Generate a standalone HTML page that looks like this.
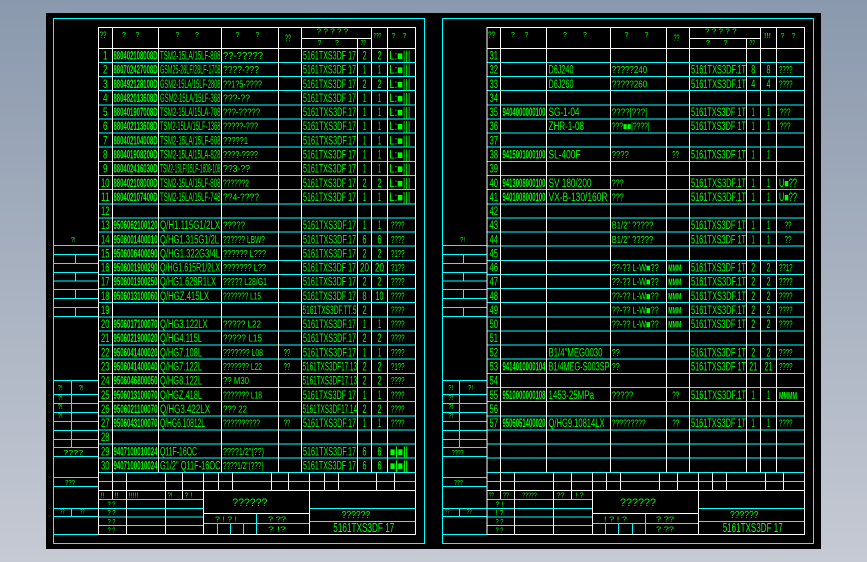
<!DOCTYPE html>
<html><head><meta charset="utf-8">
<style>
html,body{margin:0;padding:0;width:867px;height:562px;overflow:hidden;background:linear-gradient(#8a99ad,#c6cad4);}
svg{display:block}
text{fill:#00ff00;font-family:"Liberation Sans","DejaVu Sans",sans-serif;font-size:11.5px}
.c{text-anchor:middle}
.b{font-weight:bold}
.s{font-size:7px}
.q{font-size:10px}
.m{font-size:9px}
</style></head><body>
<svg width="867" height="562" viewBox="0 0 867 562" shape-rendering="crispEdges">
<rect x="46" y="13" width="775" height="536" fill="#000"/>

<!-- ============ LEFT SHEET LINES ============ -->
<path fill="none" stroke="#00ffff" stroke-width="1" d="M53.5 18.5H424.5V543.5H53.5Z
M53.5 245.5H98M53.5 254.5H98M53.5 263.5H98M53.5 272.5H98M53.5 281H98M53.5 289.5H98M53.5 298.5H98M53.5 307.5H98M53.5 316.5H98
M75.5 254.5V263.5M75.5 272.5V281M75.5 289.5V298.5M75.5 307.5V316.5
M53.5 380.5H98M53.5 394.5H98M53.5 403.5H98M53.5 412.5H98M53.5 421.5H98M53.5 430.5H98M53.5 439.5H98M53.5 447.5H98M53.5 456.5H98M53.5 477.5H98M53.5 486.5H98M53.5 508.5H98M53.5 516.5H98M53.5 534.5H98
M71.5 380.5V447.5M71.5 508.5V516.5
M98.3 62.4H415.7M98.3 76.6H415.7M98.3 90.7H415.7M98.3 104.8H415.7M98.3 119H415.7M98.3 133.1H415.7M98.3 147.2H415.7M98.3 161.4H415.7M98.3 175.5H415.7M98.3 189.6H415.7
M98.3 203.8H415.7M98.3 217.9H415.7M98.3 232H415.7M98.3 246.2H415.7M98.3 260.3H415.7M98.3 274.4H415.7M98.3 288.6H415.7M98.3 302.7H415.7M98.3 316.8H415.7M98.3 331H415.7
M98.3 345.1H415.7M98.3 359.2H415.7M98.3 373.4H415.7M98.3 387.5H415.7M98.3 401.6H415.7M98.3 415.8H415.7M98.3 429.9H415.7M98.3 444H415.7M98.3 458.2H415.7M98.3 472.3H415.7M98.3 481.3H415.7
M98.3 499.3H203.3M98.3 508.3H203.3M98.3 517H203.3M98.3 525.7H203.3
M203.3 523.3H309.3M217.3 523.3V534.3M230.3 523.3V534.3M243.3 523.3V534.3M256.3 513.3V534.3
M309.3 508.3H415.7M309.3 521.3H415.7"/>
<path fill="none" stroke="#ffffff" stroke-width="1" d="M98.3 27.3H415.7V534.3H98.3Z
M98.3 48.3H415.7M301.7 38.3H371.7
M112.3 27.3V499.3M158.7 27.3V472.3M221.7 27.3V472.3M278.7 27.3V472.3M301.7 27.3V472.3M357.3 38.3V472.3M371.7 27.3V472.3M387.3 27.3V472.3
M126.3 472.3V534.3M165.3 472.3V534.3M182.3 472.3V499.3M203.3 472.3V534.3M218.3 472.3V490.3M232.3 472.3V490.3M271.3 472.3V490.3M288.3 472.3V490.3M309.3 472.3V534.3M324.3 472.3V490.3M338.3 472.3V490.3M376.7 472.3V490.3M394.3 472.3V490.3
M98.3 490.3H415.7M203.3 513.3H309.3"/>

<!-- ============ RIGHT SHEET LINES ============ -->
<path fill="none" stroke="#00ffff" stroke-width="1" d="M442.5 18.5H813.5V543.5H442.5Z
M442.5 245.5H487M442.5 254.5H487M442.5 263.5H487M442.5 272.5H487M442.5 281H487M442.5 289.5H487M442.5 298.5H487M442.5 307.5H487M442.5 316.5H487
M463.5 254.5V263.5M463.5 272.5V281M463.5 289.5V298.5M463.5 307.5V316.5
M442.5 380.5H487M442.5 394.5H487M442.5 403.5H487M442.5 412.5H487M442.5 421.5H487M442.5 430.5H487M442.5 439.5H487M442.5 447.5H487M442.5 456.5H487M442.5 477.5H487M442.5 486.5H487M442.5 508.5H487M442.5 516.5H487M442.5 534.5H487
M459.5 380.5V447.5M459.5 508.5V516.5
M487 62.4H804.7M487 76.6H804.7M487 90.7H804.7M487 104.8H804.7M487 119H804.7M487 133.1H804.7M487 147.2H804.7M487 161.4H804.7M487 175.5H804.7M487 189.6H804.7
M487 203.8H804.7M487 217.9H804.7M487 232H804.7M487 246.2H804.7M487 260.3H804.7M487 274.4H804.7M487 288.6H804.7M487 302.7H804.7M487 316.8H804.7M487 331H804.7
M487 345.1H804.7M487 359.2H804.7M487 373.4H804.7M487 387.5H804.7M487 401.6H804.7M487 415.8H804.7M487 429.9H804.7M487 444H804.7M487 458.2H804.7M487 472.3H804.7M487 481.3H804.7
M487 499.3H592.3M487 508.3H592.3M487 517H592.3M487 525.7H592.3
M592.3 523.3H698.3M605.3 523.3V534.3M618.3 523.3V534.3M632.3 523.3V534.3M645.7 513.3V534.3
M698.3 508.3H804.7M698.3 521.3H804.7"/>
<path fill="none" stroke="#ffffff" stroke-width="1" d="M487 27.3H804.7V534.3H487Z
M487 48.3H804.7M689.3 38.3H760.3
M500.7 27.3V499.3M546.7 27.3V472.3M610.3 27.3V472.3M666.3 27.3V472.3M689.3 27.3V472.3M746.3 38.3V472.3M760.3 27.3V472.3M776.7 27.3V472.3
M514.3 472.3V534.3M553.3 472.3V534.3M571.7 472.3V499.3M592.3 472.3V534.3M606.3 472.3V490.3M620.3 472.3V490.3M659.3 472.3V490.3M677.3 472.3V490.3M698.3 472.3V534.3M712.3 472.3V490.3M726.3 472.3V490.3M765.3 472.3V490.3M783.3 472.3V490.3
M487 490.3H804.7M592.3 513.3H698.3"/>

<g shape-rendering="auto">
<!-- ============ LEFT MARGIN TEXT ============ -->
<text class="s" x="70.7" y="242" textLength="5" lengthAdjust="spacingAndGlyphs">?!</text>
<text class="s" x="57.7" y="390" textLength="5" lengthAdjust="spacingAndGlyphs">?!</text>
<text class="s" x="78.7" y="390" textLength="5" lengthAdjust="spacingAndGlyphs">?!</text>
<text class="s" x="57.7" y="400" textLength="5" lengthAdjust="spacingAndGlyphs">?!</text>
<text class="s" x="57.7" y="409" textLength="5" lengthAdjust="spacingAndGlyphs">?!</text>
<text class="s" x="57.7" y="418" textLength="5" lengthAdjust="spacingAndGlyphs">?!</text>
<text class="s" x="63.3" y="455" textLength="20" lengthAdjust="spacingAndGlyphs">????</text>
<text class="s" x="65" y="485" textLength="10" lengthAdjust="spacingAndGlyphs">???</text>
<text class="s" x="60" y="514" textLength="4.5" lengthAdjust="spacingAndGlyphs">??</text>
<text class="s" x="80" y="514" textLength="4.5" lengthAdjust="spacingAndGlyphs">??</text>

<!-- ============ LEFT HEADER ============ -->
<text class="m" x="99.5" y="38" textLength="7" lengthAdjust="spacingAndGlyphs">??</text>
<text class="s" x="122" y="37">?</text><text class="s" x="135.5" y="37">?</text>
<text class="s" x="175.5" y="37">?</text><text class="s" x="195" y="37">?</text>
<text class="s" x="235.5" y="37">?</text><text class="s" x="255.5" y="37">?</text>
<text class="m" x="285" y="41" textLength="6" lengthAdjust="spacingAndGlyphs">??</text>
<text class="s" x="316.7" y="33.5" textLength="31.6" lengthAdjust="spacingAndGlyphs">? ? ? ? ?</text>
<text class="s" x="317.5" y="45">?</text><text class="s" x="335" y="45">?</text>
<text class="s" x="360.5" y="45" textLength="5.5" lengthAdjust="spacingAndGlyphs">??</text>
<text class="s" x="373.3" y="38" textLength="8" lengthAdjust="spacingAndGlyphs">???</text>
<text class="s" x="391.5" y="38">?</text><text class="s" x="402.5" y="38">?</text>

<!-- ============ LEFT ROW NUMBERS ============ -->
<g class="c">
<text class="c" x="105.3" y="59.6" textLength="4.5" lengthAdjust="spacingAndGlyphs">1</text>
<text class="c" x="105.3" y="73.7" textLength="4.5" lengthAdjust="spacingAndGlyphs">2</text>
<text class="c" x="105.3" y="87.8" textLength="4.5" lengthAdjust="spacingAndGlyphs">3</text>
<text class="c" x="105.3" y="102" textLength="4.5" lengthAdjust="spacingAndGlyphs">4</text>
<text class="c" x="105.3" y="116.1" textLength="4.5" lengthAdjust="spacingAndGlyphs">5</text>
<text class="c" x="105.3" y="130.2" textLength="4.5" lengthAdjust="spacingAndGlyphs">6</text>
<text class="c" x="105.3" y="144.4" textLength="4.5" lengthAdjust="spacingAndGlyphs">7</text>
<text class="c" x="105.3" y="158.5" textLength="4.5" lengthAdjust="spacingAndGlyphs">8</text>
<text class="c" x="105.3" y="172.6" textLength="4.5" lengthAdjust="spacingAndGlyphs">9</text>
<text class="c" x="105.3" y="186.8" textLength="8.5" lengthAdjust="spacingAndGlyphs">10</text>
<text class="c" x="105.3" y="200.9" textLength="8.5" lengthAdjust="spacingAndGlyphs">11</text>
<text class="c" x="105.3" y="215" textLength="8.5" lengthAdjust="spacingAndGlyphs">12</text>
<text class="c" x="105.3" y="229.2" textLength="8.5" lengthAdjust="spacingAndGlyphs">13</text>
<text class="c" x="105.3" y="243.3" textLength="8.5" lengthAdjust="spacingAndGlyphs">14</text>
<text class="c" x="105.3" y="257.4" textLength="8.5" lengthAdjust="spacingAndGlyphs">15</text>
<text class="c" x="105.3" y="271.6" textLength="8.5" lengthAdjust="spacingAndGlyphs">16</text>
<text class="c" x="105.3" y="285.7" textLength="8.5" lengthAdjust="spacingAndGlyphs">17</text>
<text class="c" x="105.3" y="299.8" textLength="8.5" lengthAdjust="spacingAndGlyphs">18</text>
<text class="c" x="105.3" y="314" textLength="8.5" lengthAdjust="spacingAndGlyphs">19</text>
<text class="c" x="105.3" y="328.1" textLength="8.5" lengthAdjust="spacingAndGlyphs">20</text>
<text class="c" x="105.3" y="342.2" textLength="8.5" lengthAdjust="spacingAndGlyphs">21</text>
<text class="c" x="105.3" y="356.4" textLength="8.5" lengthAdjust="spacingAndGlyphs">22</text>
<text class="c" x="105.3" y="370.5" textLength="8.5" lengthAdjust="spacingAndGlyphs">23</text>
<text class="c" x="105.3" y="384.6" textLength="8.5" lengthAdjust="spacingAndGlyphs">24</text>
<text class="c" x="105.3" y="398.8" textLength="8.5" lengthAdjust="spacingAndGlyphs">25</text>
<text class="c" x="105.3" y="412.9" textLength="8.5" lengthAdjust="spacingAndGlyphs">26</text>
<text class="c" x="105.3" y="427" textLength="8.5" lengthAdjust="spacingAndGlyphs">27</text>
<text class="c" x="105.3" y="441.2" textLength="8.5" lengthAdjust="spacingAndGlyphs">28</text>
<text class="c" x="105.3" y="455.3" textLength="8.5" lengthAdjust="spacingAndGlyphs">29</text>
<text class="c" x="105.3" y="469.4" textLength="8.5" lengthAdjust="spacingAndGlyphs">30</text>
</g>

<!-- ============ LEFT CODES ============ -->
<g class="b">
<text class="b" x="113.5" y="59.6" textLength="44" lengthAdjust="spacingAndGlyphs">880402108008D</text>
<text class="b" x="113.5" y="73.7" textLength="44" lengthAdjust="spacingAndGlyphs">880702427008D</text>
<text class="b" x="113.5" y="87.8" textLength="44" lengthAdjust="spacingAndGlyphs">880492128100D</text>
<text class="b" x="113.5" y="102" textLength="44" lengthAdjust="spacingAndGlyphs">880482013608D</text>
<text class="b" x="113.5" y="116.1" textLength="44" lengthAdjust="spacingAndGlyphs">880401907008D</text>
<text class="b" x="113.5" y="130.2" textLength="44" lengthAdjust="spacingAndGlyphs">880402113608D</text>
<text class="b" x="113.5" y="144.4" textLength="44" lengthAdjust="spacingAndGlyphs">880402104008D</text>
<text class="b" x="113.5" y="158.5" textLength="44" lengthAdjust="spacingAndGlyphs">880401908200D</text>
<text class="b" x="113.5" y="172.6" textLength="44" lengthAdjust="spacingAndGlyphs">880402416030D</text>
<text class="b" x="113.5" y="186.8" textLength="44" lengthAdjust="spacingAndGlyphs">880402108000D</text>
<text class="b" x="113.5" y="200.9" textLength="44" lengthAdjust="spacingAndGlyphs">880402107400D</text>
<text class="b" x="113.5" y="229.2" textLength="44" lengthAdjust="spacingAndGlyphs">9506062100120</text>
<text class="b" x="113.5" y="243.3" textLength="44" lengthAdjust="spacingAndGlyphs">9506001400010</text>
<text class="b" x="113.5" y="257.4" textLength="44" lengthAdjust="spacingAndGlyphs">9506006400090</text>
<text class="b" x="113.5" y="271.6" textLength="44" lengthAdjust="spacingAndGlyphs">9506001900290</text>
<text class="b" x="113.5" y="285.7" textLength="44" lengthAdjust="spacingAndGlyphs">9506001900250</text>
<text class="b" x="113.5" y="299.8" textLength="44" lengthAdjust="spacingAndGlyphs">9506013100060</text>
<text class="b" x="113.5" y="328.1" textLength="44" lengthAdjust="spacingAndGlyphs">9506017100070</text>
<text class="b" x="113.5" y="342.2" textLength="44" lengthAdjust="spacingAndGlyphs">9506021900020</text>
<text class="b" x="113.5" y="356.4" textLength="44" lengthAdjust="spacingAndGlyphs">9506041400020</text>
<text class="b" x="113.5" y="370.5" textLength="44" lengthAdjust="spacingAndGlyphs">9506041400040</text>
<text class="b" x="113.5" y="384.6" textLength="44" lengthAdjust="spacingAndGlyphs">9506046800050</text>
<text class="b" x="113.5" y="398.8" textLength="44" lengthAdjust="spacingAndGlyphs">9506013100070</text>
<text class="b" x="113.5" y="412.9" textLength="44" lengthAdjust="spacingAndGlyphs">9506021100070</text>
<text class="b" x="113.5" y="427" textLength="44" lengthAdjust="spacingAndGlyphs">9506043100070</text>
<text class="b" x="113.5" y="455.3" textLength="44" lengthAdjust="spacingAndGlyphs">9407100010024</text>
<text class="b" x="113.5" y="469.4" textLength="44" lengthAdjust="spacingAndGlyphs">9407100010024</text>
</g>

<!-- ============ LEFT NAMES ============ -->
<text x="160" y="59.6" textLength="60.5" lengthAdjust="spacingAndGlyphs">TSM2-15LA/15LF-808</text>
<text x="160" y="73.7" textLength="60.5" lengthAdjust="spacingAndGlyphs">GSM25-28LF/28LF-1708</text>
<text x="160" y="87.8" textLength="60.5" lengthAdjust="spacingAndGlyphs">GSM2-15LA/15LF-2808</text>
<text x="160" y="102" textLength="60.5" lengthAdjust="spacingAndGlyphs">GSM2-15LA/15LF-368</text>
<text x="160" y="116.1" textLength="60.5" lengthAdjust="spacingAndGlyphs">TSM2-15LA/15LA-708</text>
<text x="160" y="130.2" textLength="60.5" lengthAdjust="spacingAndGlyphs">TSM2-15LA/15LF-1368</text>
<text x="160" y="144.4" textLength="60.5" lengthAdjust="spacingAndGlyphs">TSM2-15LA/15LF-608</text>
<text x="160" y="158.5" textLength="60.5" lengthAdjust="spacingAndGlyphs">TSM2-15LA/15LA-828</text>
<text x="160" y="172.6" textLength="60.5" lengthAdjust="spacingAndGlyphs">TSM2-15LF/15LF-1608-108</text>
<text x="160" y="186.8" textLength="60.5" lengthAdjust="spacingAndGlyphs">TSM2-15LA/15LF-808</text>
<text x="160" y="200.9" textLength="60.5" lengthAdjust="spacingAndGlyphs">TSM2-15LA/15LF-748</text>
<text x="160" y="229.2" textLength="60" lengthAdjust="spacingAndGlyphs">Q/H1.115G1/2LX</text>
<text x="160" y="243.3" textLength="59" lengthAdjust="spacingAndGlyphs">Q/HG1.315G1/2L</text>
<text x="160" y="257.4" textLength="60" lengthAdjust="spacingAndGlyphs">Q/HG1.322G3/4L</text>
<text x="160" y="271.6" textLength="60" lengthAdjust="spacingAndGlyphs">Q/HG1.615R1/2LX</text>
<text x="160" y="285.7" textLength="56" lengthAdjust="spacingAndGlyphs">Q/HG1.628R1LX</text>
<text x="160" y="299.8" textLength="49" lengthAdjust="spacingAndGlyphs">Q/HGZ.415LX</text>
<text x="160" y="328.1" textLength="47.5" lengthAdjust="spacingAndGlyphs">Q/HG3.122LX</text>
<text x="160" y="342.2" textLength="42" lengthAdjust="spacingAndGlyphs">Q/HG4.115L</text>
<text x="160" y="356.4" textLength="42" lengthAdjust="spacingAndGlyphs">Q/HG7.108L</text>
<text x="160" y="370.5" textLength="42" lengthAdjust="spacingAndGlyphs">Q/HG7.122L</text>
<text x="160" y="384.6" textLength="42" lengthAdjust="spacingAndGlyphs">Q/HG8.122L</text>
<text x="160" y="398.8" textLength="42" lengthAdjust="spacingAndGlyphs">Q/HGZ.418L</text>
<text x="160" y="412.9" textLength="50" lengthAdjust="spacingAndGlyphs">Q/HG3.422LX</text>
<text x="160" y="427" textLength="45" lengthAdjust="spacingAndGlyphs">Q/HG6.10812L</text>
<text x="160" y="455.3" textLength="37" lengthAdjust="spacingAndGlyphs">Q11F-16OC</text>
<text x="160" y="469.4" textLength="60.5" lengthAdjust="spacingAndGlyphs">G1/2&quot; Q11F-16OC</text>

<!-- ============ LEFT COL4 ============ -->
<g>
<text class="q" x="223" y="59" textLength="40" lengthAdjust="spacingAndGlyphs">??-?????</text>
<text class="q" x="223" y="73.2" textLength="36" lengthAdjust="spacingAndGlyphs">????-???</text>
<text class="q" x="223" y="87.3" textLength="39" lengthAdjust="spacingAndGlyphs">??1?5-????</text>
<text class="q" x="223" y="101.5" textLength="27" lengthAdjust="spacingAndGlyphs">???-??</text>
<text class="q" x="223" y="115.6" textLength="37" lengthAdjust="spacingAndGlyphs">???-?????</text>
<text class="q" x="223" y="129.7" textLength="35" lengthAdjust="spacingAndGlyphs">?????-???</text>
<text class="q" x="223" y="143.9" textLength="25" lengthAdjust="spacingAndGlyphs">?????1</text>
<text class="q" x="223" y="158" textLength="35" lengthAdjust="spacingAndGlyphs">????-????</text>
<text class="q" x="223" y="172.1" textLength="27" lengthAdjust="spacingAndGlyphs">??3-??</text>
<text class="q" x="223" y="186.3" textLength="26" lengthAdjust="spacingAndGlyphs">??????2</text>
<text class="q" x="223" y="200.4" textLength="36" lengthAdjust="spacingAndGlyphs">??4-????</text>
<text class="q" x="223" y="228.7" textLength="22" lengthAdjust="spacingAndGlyphs">?????</text>
<text class="q" x="223" y="242.8" textLength="42" lengthAdjust="spacingAndGlyphs">?????? LBW?</text>
<text class="q" x="223" y="256.9" textLength="43" lengthAdjust="spacingAndGlyphs">?????? L???</text>
<text class="q" x="223" y="271.1" textLength="43" lengthAdjust="spacingAndGlyphs">??????? L??</text>
<text class="q" x="223" y="285.2" textLength="44" lengthAdjust="spacingAndGlyphs">????? L28/G1</text>
<text class="q" x="223" y="299.3" textLength="38" lengthAdjust="spacingAndGlyphs">??????? L15</text>
<text class="q" x="223" y="327.6" textLength="38" lengthAdjust="spacingAndGlyphs">????? L22</text>
<text class="q" x="223" y="341.7" textLength="39" lengthAdjust="spacingAndGlyphs">?????  L15</text>
<text class="q" x="223" y="355.9" textLength="40" lengthAdjust="spacingAndGlyphs">??????? L08</text>
<text class="q" x="223" y="370" textLength="39" lengthAdjust="spacingAndGlyphs">??????? L22</text>
<text class="q" x="223" y="384.1" textLength="26" lengthAdjust="spacingAndGlyphs">?? M30</text>
<text class="q" x="223" y="398.3" textLength="39" lengthAdjust="spacingAndGlyphs">??????? L18</text>
<text class="q" x="223" y="412.4" textLength="24" lengthAdjust="spacingAndGlyphs">??? 22</text>
<text class="q" x="223" y="426.5" textLength="37" lengthAdjust="spacingAndGlyphs">??????????</text>
<text class="q" x="223" y="454.8" textLength="41" lengthAdjust="spacingAndGlyphs">????1/2&quot;(??)</text>
<text class="q" x="223" y="468.9" textLength="40" lengthAdjust="spacingAndGlyphs">????1/2&quot;(???|</text>
</g>
<!-- col5 -->
<text class="q" x="283.7" y="355.9" textLength="6.5" lengthAdjust="spacingAndGlyphs">??</text>
<text class="q" x="283.7" y="370" textLength="6.5" lengthAdjust="spacingAndGlyphs">??</text>
<text class="q" x="283.7" y="426.5" textLength="6.5" lengthAdjust="spacingAndGlyphs">??</text>

<!-- ============ LEFT COL6 ============ -->
<text x="303" y="59.6" textLength="53" lengthAdjust="spacingAndGlyphs">5161TXS3DF 17</text>
<text x="303" y="73.7" textLength="53" lengthAdjust="spacingAndGlyphs">5161TXS3DF 17</text>
<text x="303" y="87.8" textLength="53" lengthAdjust="spacingAndGlyphs">5161TXS3DF 17</text>
<text x="303" y="102" textLength="53" lengthAdjust="spacingAndGlyphs">5161TXS3DF 17</text>
<text x="303" y="116.1" textLength="53" lengthAdjust="spacingAndGlyphs">5161TXS3DF.17</text>
<text x="303" y="130.2" textLength="53" lengthAdjust="spacingAndGlyphs">5161TXS3DF.17</text>
<text x="303" y="144.4" textLength="53" lengthAdjust="spacingAndGlyphs">5161TXS3DF.17</text>
<text x="303" y="158.5" textLength="53" lengthAdjust="spacingAndGlyphs">5161TXS3DF 17</text>
<text x="303" y="172.6" textLength="53" lengthAdjust="spacingAndGlyphs">5161TXS3DF 17</text>
<text x="303" y="186.8" textLength="53" lengthAdjust="spacingAndGlyphs">5161TXS3DF 17</text>
<text x="303" y="200.9" textLength="53" lengthAdjust="spacingAndGlyphs">5161TXS3DF 17</text>
<text x="303" y="229.2" textLength="53" lengthAdjust="spacingAndGlyphs">5161TXS3DF.17</text>
<text x="303" y="243.3" textLength="53" lengthAdjust="spacingAndGlyphs">5161TXS3DF.17</text>
<text x="303" y="257.4" textLength="53" lengthAdjust="spacingAndGlyphs">5161TXS3DF.17</text>
<text x="303" y="271.6" textLength="53" lengthAdjust="spacingAndGlyphs">5161TXS3DF 17</text>
<text x="303" y="285.7" textLength="53" lengthAdjust="spacingAndGlyphs">5161TXS3DF 17</text>
<text x="303" y="299.8" textLength="53" lengthAdjust="spacingAndGlyphs">5161TXS3DF 17</text>
<text x="302.5" y="314" textLength="54" lengthAdjust="spacingAndGlyphs">5161TXS3DF.TT.5</text>
<text x="303" y="328.1" textLength="53" lengthAdjust="spacingAndGlyphs">5161TXS3DF.17</text>
<text x="303" y="342.2" textLength="53" lengthAdjust="spacingAndGlyphs">5161TXS3DF.17</text>
<text x="303" y="356.4" textLength="53" lengthAdjust="spacingAndGlyphs">5161TXS3DF.17</text>
<text x="302.5" y="370.5" textLength="54.5" lengthAdjust="spacingAndGlyphs">5161TXS3DF17.13</text>
<text x="302.5" y="384.6" textLength="54.5" lengthAdjust="spacingAndGlyphs">5161TXS3DF17.13</text>
<text x="303" y="398.8" textLength="53" lengthAdjust="spacingAndGlyphs">5161TXS3DF 17</text>
<text x="302.5" y="412.9" textLength="54.5" lengthAdjust="spacingAndGlyphs">5161TXS3DF17.14</text>
<text x="303" y="427" textLength="53" lengthAdjust="spacingAndGlyphs">5161TXS3DF.17</text>
<text x="303" y="455.3" textLength="53" lengthAdjust="spacingAndGlyphs">5161TXS3DF.17</text>
<text x="303" y="469.4" textLength="53" lengthAdjust="spacingAndGlyphs">5161TXS3DF 17</text>

<!-- ============ LEFT QTY ============ -->
<g>
<text class="c" x="364.5" y="59.6" textLength="4" lengthAdjust="spacingAndGlyphs">2</text><text class="c" x="379.5" y="59.6" textLength="4" lengthAdjust="spacingAndGlyphs">2</text>
<text class="c" x="364.5" y="73.7" textLength="3" lengthAdjust="spacingAndGlyphs">1</text><text class="c" x="379.5" y="73.7" textLength="3" lengthAdjust="spacingAndGlyphs">1</text>
<text class="c" x="364.5" y="87.8" textLength="4" lengthAdjust="spacingAndGlyphs">2</text><text class="c" x="379.5" y="87.8" textLength="4" lengthAdjust="spacingAndGlyphs">2</text>
<text class="c" x="364.5" y="102" textLength="3" lengthAdjust="spacingAndGlyphs">1</text><text class="c" x="379.5" y="102" textLength="3" lengthAdjust="spacingAndGlyphs">1</text>
<text class="c" x="364.5" y="116.1" textLength="3" lengthAdjust="spacingAndGlyphs">1</text><text class="c" x="379.5" y="116.1" textLength="3" lengthAdjust="spacingAndGlyphs">1</text>
<text class="c" x="364.5" y="130.2" textLength="3" lengthAdjust="spacingAndGlyphs">1</text><text class="c" x="379.5" y="130.2" textLength="3" lengthAdjust="spacingAndGlyphs">1</text>
<text class="c" x="364.5" y="144.4" textLength="3" lengthAdjust="spacingAndGlyphs">1</text><text class="c" x="379.5" y="144.4" textLength="3" lengthAdjust="spacingAndGlyphs">1</text>
<text class="c" x="364.5" y="158.5" textLength="3" lengthAdjust="spacingAndGlyphs">1</text><text class="c" x="379.5" y="158.5" textLength="3" lengthAdjust="spacingAndGlyphs">1</text>
<text class="c" x="364.5" y="172.6" textLength="3" lengthAdjust="spacingAndGlyphs">1</text><text class="c" x="379.5" y="172.6" textLength="3" lengthAdjust="spacingAndGlyphs">1</text>
<text class="c" x="364.5" y="186.8" textLength="4" lengthAdjust="spacingAndGlyphs">2</text><text class="c" x="379.5" y="186.8" textLength="4" lengthAdjust="spacingAndGlyphs">2</text>
<text class="c" x="364.5" y="200.9" textLength="3" lengthAdjust="spacingAndGlyphs">1</text><text class="c" x="379.5" y="200.9" textLength="3" lengthAdjust="spacingAndGlyphs">1</text>
<text class="c" x="364.5" y="229.2" textLength="3" lengthAdjust="spacingAndGlyphs">1</text><text class="c" x="379.5" y="229.2" textLength="3" lengthAdjust="spacingAndGlyphs">1</text>
<text class="c" x="364.5" y="243.3" textLength="4" lengthAdjust="spacingAndGlyphs">6</text><text class="c" x="379.5" y="243.3" textLength="4" lengthAdjust="spacingAndGlyphs">6</text>
<text class="c" x="364.5" y="257.4" textLength="4" lengthAdjust="spacingAndGlyphs">2</text><text class="c" x="379.5" y="257.4" textLength="4" lengthAdjust="spacingAndGlyphs">2</text>
<text class="c" x="364.5" y="271.6" textLength="9" lengthAdjust="spacingAndGlyphs">20</text><text class="c" x="379.5" y="271.6" textLength="9" lengthAdjust="spacingAndGlyphs">20</text>
<text class="c" x="364.5" y="285.7" textLength="4" lengthAdjust="spacingAndGlyphs">2</text><text class="c" x="379.5" y="285.7" textLength="4" lengthAdjust="spacingAndGlyphs">2</text>
<text class="c" x="364.5" y="299.8" textLength="4" lengthAdjust="spacingAndGlyphs">8</text><text class="c" x="379.5" y="299.8" textLength="8" lengthAdjust="spacingAndGlyphs">10</text>
<text class="c" x="364.5" y="314" textLength="4" lengthAdjust="spacingAndGlyphs">2</text>
<text class="c" x="364.5" y="328.1" textLength="3" lengthAdjust="spacingAndGlyphs">1</text><text class="c" x="379.5" y="328.1" textLength="3" lengthAdjust="spacingAndGlyphs">1</text>
<text class="c" x="364.5" y="342.2" textLength="4" lengthAdjust="spacingAndGlyphs">2</text><text class="c" x="379.5" y="342.2" textLength="4" lengthAdjust="spacingAndGlyphs">2</text>
<text class="c" x="364.5" y="356.4" textLength="3" lengthAdjust="spacingAndGlyphs">1</text><text class="c" x="379.5" y="356.4" textLength="3" lengthAdjust="spacingAndGlyphs">1</text>
<text class="c" x="364.5" y="370.5" textLength="4" lengthAdjust="spacingAndGlyphs">2</text><text class="c" x="379.5" y="370.5" textLength="4" lengthAdjust="spacingAndGlyphs">2</text>
<text class="c" x="364.5" y="384.6" textLength="4" lengthAdjust="spacingAndGlyphs">2</text><text class="c" x="379.5" y="384.6" textLength="4" lengthAdjust="spacingAndGlyphs">2</text>
<text class="c" x="364.5" y="398.8" textLength="3" lengthAdjust="spacingAndGlyphs">1</text><text class="c" x="379.5" y="398.8" textLength="3" lengthAdjust="spacingAndGlyphs">1</text>
<text class="c" x="364.5" y="412.9" textLength="4" lengthAdjust="spacingAndGlyphs">2</text><text class="c" x="379.5" y="412.9" textLength="4" lengthAdjust="spacingAndGlyphs">2</text>
<text class="c" x="364.5" y="427" textLength="3" lengthAdjust="spacingAndGlyphs">1</text><text class="c" x="379.5" y="427" textLength="3" lengthAdjust="spacingAndGlyphs">1</text>
<text class="c" x="364.5" y="455.3" textLength="4" lengthAdjust="spacingAndGlyphs">6</text><text class="c" x="379.5" y="455.3" textLength="4" lengthAdjust="spacingAndGlyphs">6</text>
<text class="c" x="364.5" y="469.4" textLength="4" lengthAdjust="spacingAndGlyphs">6</text><text class="c" x="379.5" y="469.4" textLength="4" lengthAdjust="spacingAndGlyphs">6</text>
</g>

<!-- ============ LEFT COL9 ============ -->
<text x="389.3" y="59.6" textLength="21" lengthAdjust="spacingAndGlyphs">L:■|||</text>
<text x="389.3" y="73.7" textLength="21" lengthAdjust="spacingAndGlyphs">L:■|||</text>
<text x="389.3" y="87.8" textLength="21" lengthAdjust="spacingAndGlyphs">L:■|||</text>
<text x="389.3" y="102" textLength="21" lengthAdjust="spacingAndGlyphs">L:■|||</text>
<text x="389.3" y="116.1" textLength="21" lengthAdjust="spacingAndGlyphs">L:■|||</text>
<text x="389.3" y="130.2" textLength="21" lengthAdjust="spacingAndGlyphs">L:■|||</text>
<text x="389.3" y="144.4" textLength="21" lengthAdjust="spacingAndGlyphs">L:■|||</text>
<text x="389.3" y="158.5" textLength="21" lengthAdjust="spacingAndGlyphs">L:■|||</text>
<text x="389.3" y="172.6" textLength="21" lengthAdjust="spacingAndGlyphs">L:■|||</text>
<text x="389.3" y="186.8" textLength="21" lengthAdjust="spacingAndGlyphs">L:■|||</text>
<text x="389.3" y="200.9" textLength="21" lengthAdjust="spacingAndGlyphs">L:■|||</text>
<g class="q">
<text class="q" x="391" y="228.7" textLength="13.5" lengthAdjust="spacingAndGlyphs">????</text>
<text class="q" x="391" y="242.8" textLength="13.5" lengthAdjust="spacingAndGlyphs">????</text>
<text class="q" x="391" y="256.9" textLength="13.5" lengthAdjust="spacingAndGlyphs">?1??</text>
<text class="q" x="391" y="271.1" textLength="13.5" lengthAdjust="spacingAndGlyphs">?1??</text>
<text class="q" x="391" y="285.2" textLength="13.5" lengthAdjust="spacingAndGlyphs">????</text>
<text class="q" x="391" y="299.3" textLength="13.5" lengthAdjust="spacingAndGlyphs">????</text>
<text class="q" x="391" y="313.5" textLength="13.5" lengthAdjust="spacingAndGlyphs">????</text>
<text class="q" x="391" y="327.6" textLength="13.5" lengthAdjust="spacingAndGlyphs">????</text>
<text class="q" x="391" y="341.7" textLength="13.5" lengthAdjust="spacingAndGlyphs">????</text>
<text class="q" x="391" y="355.9" textLength="13.5" lengthAdjust="spacingAndGlyphs">????</text>
<text class="q" x="391" y="370" textLength="13.5" lengthAdjust="spacingAndGlyphs">?1??</text>
<text class="q" x="391" y="384.1" textLength="13.5" lengthAdjust="spacingAndGlyphs">????</text>
<text class="q" x="391" y="398.3" textLength="13.5" lengthAdjust="spacingAndGlyphs">????</text>
<text class="q" x="391" y="412.4" textLength="13.5" lengthAdjust="spacingAndGlyphs">????</text>
<text class="q" x="391" y="426.5" textLength="13.5" lengthAdjust="spacingAndGlyphs">????</text>
</g>
<text class="b" x="390" y="455.3" textLength="18" lengthAdjust="spacingAndGlyphs">■|■||</text>
<text class="b" x="390" y="469.4" textLength="18" lengthAdjust="spacingAndGlyphs">■|■||</text>

<!-- ============ LEFT TITLE BLOCK ============ -->
<text class="s" x="100.5" y="497.5" textLength="4" lengthAdjust="spacingAndGlyphs">!!</text>
<text class="s" x="114.5" y="497.5" textLength="4" lengthAdjust="spacingAndGlyphs">!!</text>
<text class="s" x="128.5" y="497.5" textLength="10" lengthAdjust="spacingAndGlyphs">!!!!!</text>
<text class="s" x="167.5" y="497.5" textLength="5" lengthAdjust="spacingAndGlyphs">?!</text>
<text class="s" x="184.5" y="497.5" textLength="8" lengthAdjust="spacingAndGlyphs">? !</text>
<text class="s c" x="111.5" y="506.5" textLength="8" lengthAdjust="spacingAndGlyphs">? ?</text>
<text class="s c" x="111.5" y="515" textLength="8" lengthAdjust="spacingAndGlyphs">? ?</text>
<text class="s c" x="111.5" y="524" textLength="8" lengthAdjust="spacingAndGlyphs">? ?</text>
<text class="s c" x="111.5" y="532.5" textLength="8" lengthAdjust="spacingAndGlyphs">? ?</text>
<text style="font-size:11px" x="232.3" y="506" textLength="35" lengthAdjust="spacingAndGlyphs">??????</text>
<text class="s" x="215" y="521.5" textLength="22" lengthAdjust="spacingAndGlyphs">? ! ? !</text>
<text class="s" x="268" y="521.5" textLength="18" lengthAdjust="spacingAndGlyphs">?  ??</text>
<text class="s" x="268" y="531.5" textLength="18" lengthAdjust="spacingAndGlyphs">?  !?</text>
<text class="q" x="341.7" y="518" textLength="28.5" lengthAdjust="spacingAndGlyphs">??????</text>
<text style="font-size:12.5px" x="333.3" y="532" textLength="61" lengthAdjust="spacingAndGlyphs">5161TXS3DF 17</text>

<!-- ============ RIGHT MARGIN TEXT ============ -->
<text class="s" x="460" y="242" textLength="5" lengthAdjust="spacingAndGlyphs">?!</text>
<text class="s" x="448.3" y="390" textLength="5" lengthAdjust="spacingAndGlyphs">?!</text>
<text class="s" x="468" y="390" textLength="5" lengthAdjust="spacingAndGlyphs">?!</text>
<text class="s" x="448.3" y="400" textLength="5" lengthAdjust="spacingAndGlyphs">?!</text>
<text class="s" x="448.3" y="409" textLength="5" lengthAdjust="spacingAndGlyphs">?!</text>
<text class="s" x="448.3" y="418" textLength="5" lengthAdjust="spacingAndGlyphs">?!</text>
<text class="s" x="451.7" y="455" textLength="12" lengthAdjust="spacingAndGlyphs">????</text>
<text class="s" x="454" y="485" textLength="9" lengthAdjust="spacingAndGlyphs">???</text>
<text class="s" x="445" y="514" textLength="4.5" lengthAdjust="spacingAndGlyphs">??</text>
<text class="s" x="466.7" y="514" textLength="5" lengthAdjust="spacingAndGlyphs">??</text>

<!-- ============ RIGHT HEADER ============ -->
<text class="m" x="488" y="38" textLength="7" lengthAdjust="spacingAndGlyphs">??</text>
<text class="s" x="511" y="37">?</text><text class="s" x="524.5" y="37">?</text>
<text class="s" x="563" y="37">?</text><text class="s" x="583" y="37">?</text>
<text class="s" x="624.5" y="37">?</text><text class="s" x="644.5" y="37">?</text>
<text class="m" x="673.5" y="41" textLength="6" lengthAdjust="spacingAndGlyphs">??</text>
<text class="s" x="705" y="33.5" textLength="31.6" lengthAdjust="spacingAndGlyphs">? ? ? ? ?</text>
<text class="s" x="706" y="45">?</text><text class="s" x="723.5" y="45">?</text>
<text class="s" x="749.5" y="45" textLength="5.5" lengthAdjust="spacingAndGlyphs">??</text>
<text class="s" x="764" y="38" textLength="7" lengthAdjust="spacingAndGlyphs">!!!</text>
<text class="s" x="780.5" y="38">?</text><text class="s" x="791.5" y="38">?</text>

<!-- ============ RIGHT ROW NUMBERS ============ -->
<g>
<text class="c" x="493.8" y="59.6" textLength="8.5" lengthAdjust="spacingAndGlyphs">31</text>
<text class="c" x="493.8" y="73.7" textLength="8.5" lengthAdjust="spacingAndGlyphs">32</text>
<text class="c" x="493.8" y="87.8" textLength="8.5" lengthAdjust="spacingAndGlyphs">33</text>
<text class="c" x="493.8" y="102" textLength="8.5" lengthAdjust="spacingAndGlyphs">34</text>
<text class="c" x="493.8" y="116.1" textLength="8.5" lengthAdjust="spacingAndGlyphs">35</text>
<text class="c" x="493.8" y="130.2" textLength="8.5" lengthAdjust="spacingAndGlyphs">36</text>
<text class="c" x="493.8" y="144.4" textLength="8.5" lengthAdjust="spacingAndGlyphs">37</text>
<text class="c" x="493.8" y="158.5" textLength="8.5" lengthAdjust="spacingAndGlyphs">38</text>
<text class="c" x="493.8" y="172.6" textLength="8.5" lengthAdjust="spacingAndGlyphs">39</text>
<text class="c" x="493.8" y="186.8" textLength="8.5" lengthAdjust="spacingAndGlyphs">40</text>
<text class="c" x="493.8" y="200.9" textLength="8.5" lengthAdjust="spacingAndGlyphs">41</text>
<text class="c" x="493.8" y="215" textLength="8.5" lengthAdjust="spacingAndGlyphs">42</text>
<text class="c" x="493.8" y="229.2" textLength="8.5" lengthAdjust="spacingAndGlyphs">43</text>
<text class="c" x="493.8" y="243.3" textLength="8.5" lengthAdjust="spacingAndGlyphs">44</text>
<text class="c" x="493.8" y="257.4" textLength="8.5" lengthAdjust="spacingAndGlyphs">45</text>
<text class="c" x="493.8" y="271.6" textLength="8.5" lengthAdjust="spacingAndGlyphs">46</text>
<text class="c" x="493.8" y="285.7" textLength="8.5" lengthAdjust="spacingAndGlyphs">47</text>
<text class="c" x="493.8" y="299.8" textLength="8.5" lengthAdjust="spacingAndGlyphs">48</text>
<text class="c" x="493.8" y="314" textLength="8.5" lengthAdjust="spacingAndGlyphs">49</text>
<text class="c" x="493.8" y="328.1" textLength="8.5" lengthAdjust="spacingAndGlyphs">50</text>
<text class="c" x="493.8" y="342.2" textLength="8.5" lengthAdjust="spacingAndGlyphs">51</text>
<text class="c" x="493.8" y="356.4" textLength="8.5" lengthAdjust="spacingAndGlyphs">52</text>
<text class="c" x="493.8" y="370.5" textLength="8.5" lengthAdjust="spacingAndGlyphs">53</text>
<text class="c" x="493.8" y="384.6" textLength="8.5" lengthAdjust="spacingAndGlyphs">54</text>
<text class="c" x="493.8" y="398.8" textLength="8.5" lengthAdjust="spacingAndGlyphs">55</text>
<text class="c" x="493.8" y="412.9" textLength="8.5" lengthAdjust="spacingAndGlyphs">56</text>
<text class="c" x="493.8" y="427" textLength="8.5" lengthAdjust="spacingAndGlyphs">57</text>
</g>

<!-- ============ RIGHT CODES ============ -->
<text class="b" x="502.5" y="116.1" textLength="43" lengthAdjust="spacingAndGlyphs">9404000000100</text>
<text class="b" x="502.5" y="158.5" textLength="43" lengthAdjust="spacingAndGlyphs">9415001000100</text>
<text class="b" x="502.5" y="186.8" textLength="43" lengthAdjust="spacingAndGlyphs">9413008000100</text>
<text class="b" x="502.5" y="200.9" textLength="43" lengthAdjust="spacingAndGlyphs">9401008000100</text>
<text class="b" x="502.5" y="370.5" textLength="43" lengthAdjust="spacingAndGlyphs">9414010000104</text>
<text class="b" x="502.5" y="398.8" textLength="43" lengthAdjust="spacingAndGlyphs">9510000000108</text>
<text class="b" x="502.5" y="427" textLength="43" lengthAdjust="spacingAndGlyphs">9506051400020</text>

<!-- ============ RIGHT NAMES ============ -->
<text x="548.5" y="73.7" textLength="25" lengthAdjust="spacingAndGlyphs">D6J240</text>
<text x="548.5" y="87.8" textLength="25" lengthAdjust="spacingAndGlyphs">D6J260</text>
<text x="548.5" y="116.1" textLength="31" lengthAdjust="spacingAndGlyphs">SG-1-04</text>
<text x="548.5" y="130.2" textLength="35.5" lengthAdjust="spacingAndGlyphs">ZHR-1-08</text>
<text x="548.5" y="158.5" textLength="32" lengthAdjust="spacingAndGlyphs">SL-400F</text>
<text x="548.5" y="186.8" textLength="43" lengthAdjust="spacingAndGlyphs">SV 180/200</text>
<text x="548.5" y="200.9" textLength="59" lengthAdjust="spacingAndGlyphs">VX-B-130/160R</text>
<text x="548.5" y="356.4" textLength="54" lengthAdjust="spacingAndGlyphs">B1/4&quot;MEG0030</text>
<text x="548.5" y="370.5" textLength="61" lengthAdjust="spacingAndGlyphs">B1/4MEG-S003SP</text>
<text x="548.5" y="398.8" textLength="45.5" lengthAdjust="spacingAndGlyphs">1453-25MPa</text>
<text x="548.5" y="427" textLength="56" lengthAdjust="spacingAndGlyphs">Q/HG9.10814LX</text>

<!-- ============ RIGHT COL4 ============ -->
<text class="q" x="611.7" y="73.2" textLength="35.5" lengthAdjust="spacingAndGlyphs">?????240</text>
<text class="q" x="611.7" y="87.3" textLength="35.5" lengthAdjust="spacingAndGlyphs">?????260</text>
<text class="q" x="611.7" y="115.6" textLength="35.5" lengthAdjust="spacingAndGlyphs">????|???|</text>
<text class="q" x="611.7" y="129.7" textLength="38" lengthAdjust="spacingAndGlyphs">???■■|????|</text>
<text class="q" x="611.7" y="158" textLength="17" lengthAdjust="spacingAndGlyphs">????</text>
<text class="q" x="611.7" y="186.3" textLength="12" lengthAdjust="spacingAndGlyphs">???</text>
<text class="q" x="611.7" y="200.4" textLength="12" lengthAdjust="spacingAndGlyphs">???</text>
<text class="q" x="611.7" y="228.7" textLength="41.5" lengthAdjust="spacingAndGlyphs">B1/2&quot; ?????</text>
<text class="q" x="611.7" y="242.8" textLength="41.5" lengthAdjust="spacingAndGlyphs">B1/2&quot; ?????</text>
<text class="q" x="611.7" y="271.1" textLength="47" lengthAdjust="spacingAndGlyphs">??-?? L-W■??</text>
<text class="q" x="611.7" y="285.2" textLength="47" lengthAdjust="spacingAndGlyphs">??-?? L-W■??</text>
<text class="q" x="611.7" y="299.3" textLength="47" lengthAdjust="spacingAndGlyphs">??-?? L-W■??</text>
<text class="q" x="611.7" y="313.5" textLength="47" lengthAdjust="spacingAndGlyphs">??-?? L-W■??</text>
<text class="q" x="611.7" y="327.6" textLength="47" lengthAdjust="spacingAndGlyphs">??-?? L-W■??</text>
<text class="q" x="611.7" y="355.9" textLength="8" lengthAdjust="spacingAndGlyphs">??</text>
<text class="q" x="611.7" y="370" textLength="8" lengthAdjust="spacingAndGlyphs">??</text>
<text class="q" x="611.7" y="398.3" textLength="21.5" lengthAdjust="spacingAndGlyphs">?????</text>
<text class="q" x="611.7" y="426.5" textLength="34" lengthAdjust="spacingAndGlyphs">?????????</text>
<!-- right col5 -->
<text class="q" x="672.3" y="158" textLength="6.7" lengthAdjust="spacingAndGlyphs">??</text>
<text class="b" x="668.3" y="271.1" textLength="13" lengthAdjust="spacingAndGlyphs" style="font-size:9px">MMM</text>
<text class="b" x="668.3" y="285.2" textLength="13" lengthAdjust="spacingAndGlyphs" style="font-size:9px">MMM</text>
<text class="b" x="668.3" y="299.3" textLength="13" lengthAdjust="spacingAndGlyphs" style="font-size:9px">MMM</text>
<text class="b" x="668.3" y="313.5" textLength="13" lengthAdjust="spacingAndGlyphs" style="font-size:9px">MMM</text>
<text class="b" x="668.3" y="327.6" textLength="13" lengthAdjust="spacingAndGlyphs" style="font-size:9px">MMM</text>
<text class="q" x="672.3" y="398.3" textLength="7" lengthAdjust="spacingAndGlyphs">??</text>
<text class="q" x="672.3" y="426.5" textLength="7" lengthAdjust="spacingAndGlyphs">??</text>

<!-- ============ RIGHT COL6 ============ -->
<text x="691" y="73.7" textLength="55" lengthAdjust="spacingAndGlyphs">5161TXS3DF.1T</text>
<text x="691" y="87.8" textLength="55" lengthAdjust="spacingAndGlyphs">5161TXS3DF.1T</text>
<text x="691" y="116.1" textLength="55" lengthAdjust="spacingAndGlyphs">5161TXS3DF 1T</text>
<text x="691" y="130.2" textLength="55" lengthAdjust="spacingAndGlyphs">5161TXS3DF 1T</text>
<text x="691" y="158.5" textLength="55" lengthAdjust="spacingAndGlyphs">5161TXS3DF 1T</text>
<text x="691" y="186.8" textLength="55" lengthAdjust="spacingAndGlyphs">5161TXS3DF.1T</text>
<text x="691" y="200.9" textLength="55" lengthAdjust="spacingAndGlyphs">5161TXS3DF.1T</text>
<text x="691" y="229.2" textLength="55" lengthAdjust="spacingAndGlyphs">5161TXS3DF 1T</text>
<text x="691" y="243.3" textLength="55" lengthAdjust="spacingAndGlyphs">5161TXS3DF 1T</text>
<text x="691" y="271.6" textLength="55" lengthAdjust="spacingAndGlyphs">5161TXS3DF 1T</text>
<text x="691" y="285.7" textLength="55" lengthAdjust="spacingAndGlyphs">5161TXS3DF.1T</text>
<text x="691" y="299.8" textLength="55" lengthAdjust="spacingAndGlyphs">5161TXS3DF.1T</text>
<text x="691" y="314" textLength="55" lengthAdjust="spacingAndGlyphs">5161TXS3DF.1T</text>
<text x="691" y="328.1" textLength="55" lengthAdjust="spacingAndGlyphs">5161TXS3DF 1T</text>
<text x="691" y="356.4" textLength="55" lengthAdjust="spacingAndGlyphs">5161TXS3DF 1T</text>
<text x="691" y="370.5" textLength="55" lengthAdjust="spacingAndGlyphs">5161TXS3DF 1T</text>
<text x="691" y="398.8" textLength="55" lengthAdjust="spacingAndGlyphs">5161TXS3DF.1T</text>
<text x="691" y="427" textLength="55" lengthAdjust="spacingAndGlyphs">5161TXS3DF 1T</text>

<!-- ============ RIGHT QTY ============ -->
<g>
<text class="c" x="753.3" y="73.7" textLength="4" lengthAdjust="spacingAndGlyphs">8</text><text class="c" x="768.5" y="73.7" textLength="4" lengthAdjust="spacingAndGlyphs">8</text>
<text class="c" x="753.3" y="87.8" textLength="4" lengthAdjust="spacingAndGlyphs">4</text><text class="c" x="768.5" y="87.8" textLength="4" lengthAdjust="spacingAndGlyphs">4</text>
<text class="c" x="753.3" y="116.1" textLength="3" lengthAdjust="spacingAndGlyphs">1</text><text class="c" x="768.5" y="116.1" textLength="3" lengthAdjust="spacingAndGlyphs">1</text>
<text class="c" x="753.3" y="130.2" textLength="3" lengthAdjust="spacingAndGlyphs">1</text><text class="c" x="768.5" y="130.2" textLength="3" lengthAdjust="spacingAndGlyphs">1</text>
<text class="c" x="753.3" y="158.5" textLength="3" lengthAdjust="spacingAndGlyphs">1</text><text class="c" x="768.5" y="158.5" textLength="3" lengthAdjust="spacingAndGlyphs">1</text>
<text class="c" x="753.3" y="186.8" textLength="3" lengthAdjust="spacingAndGlyphs">1</text><text class="c" x="768.5" y="186.8" textLength="3" lengthAdjust="spacingAndGlyphs">1</text>
<text class="c" x="753.3" y="200.9" textLength="3" lengthAdjust="spacingAndGlyphs">1</text><text class="c" x="768.5" y="200.9" textLength="3" lengthAdjust="spacingAndGlyphs">1</text>
<text class="c" x="753.3" y="229.2" textLength="3" lengthAdjust="spacingAndGlyphs">1</text><text class="c" x="768.5" y="229.2" textLength="3" lengthAdjust="spacingAndGlyphs">1</text>
<text class="c" x="753.3" y="243.3" textLength="3" lengthAdjust="spacingAndGlyphs">1</text><text class="c" x="768.5" y="243.3" textLength="3" lengthAdjust="spacingAndGlyphs">1</text>
<text class="c" x="753.3" y="271.6" textLength="4" lengthAdjust="spacingAndGlyphs">2</text><text class="c" x="768.5" y="271.6" textLength="4" lengthAdjust="spacingAndGlyphs">2</text>
<text class="c" x="753.3" y="285.7" textLength="4" lengthAdjust="spacingAndGlyphs">2</text><text class="c" x="768.5" y="285.7" textLength="4" lengthAdjust="spacingAndGlyphs">2</text>
<text class="c" x="753.3" y="299.8" textLength="4" lengthAdjust="spacingAndGlyphs">2</text><text class="c" x="768.5" y="299.8" textLength="4" lengthAdjust="spacingAndGlyphs">2</text>
<text class="c" x="753.3" y="314" textLength="4" lengthAdjust="spacingAndGlyphs">2</text><text class="c" x="768.5" y="314" textLength="4" lengthAdjust="spacingAndGlyphs">2</text>
<text class="c" x="753.3" y="328.1" textLength="4" lengthAdjust="spacingAndGlyphs">2</text><text class="c" x="768.5" y="328.1" textLength="4" lengthAdjust="spacingAndGlyphs">2</text>
<text class="c" x="753.3" y="356.4" textLength="4" lengthAdjust="spacingAndGlyphs">2</text><text class="c" x="768.5" y="356.4" textLength="4" lengthAdjust="spacingAndGlyphs">2</text>
<text class="c" x="753.3" y="370.5" textLength="8" lengthAdjust="spacingAndGlyphs">21</text><text class="c" x="768.5" y="370.5" textLength="8" lengthAdjust="spacingAndGlyphs">21</text>
<text class="c" x="753.3" y="398.8" textLength="3" lengthAdjust="spacingAndGlyphs">1</text><text class="c" x="768.5" y="398.8" textLength="3" lengthAdjust="spacingAndGlyphs">1</text>
<text class="c" x="753.3" y="427" textLength="3" lengthAdjust="spacingAndGlyphs">1</text><text class="c" x="768.5" y="427" textLength="3" lengthAdjust="spacingAndGlyphs">1</text>
</g>

<!-- ============ RIGHT COL9 ============ -->
<text class="q" x="779" y="73.2" textLength="13.5" lengthAdjust="spacingAndGlyphs">????</text>
<text class="q" x="779" y="87.3" textLength="13.5" lengthAdjust="spacingAndGlyphs">????</text>
<text class="q" x="779.5" y="115.6" textLength="11" lengthAdjust="spacingAndGlyphs">???</text>
<text class="q" x="779.5" y="129.7" textLength="11" lengthAdjust="spacingAndGlyphs">???</text>
<text x="779" y="186.8" textLength="18" lengthAdjust="spacingAndGlyphs">U■??</text>
<text x="779" y="200.9" textLength="18" lengthAdjust="spacingAndGlyphs">U■??</text>
<text class="q c" x="788" y="228.7" textLength="7" lengthAdjust="spacingAndGlyphs">??</text>
<text class="q c" x="788" y="242.8" textLength="7" lengthAdjust="spacingAndGlyphs">??</text>
<text class="q" x="779" y="271.1" textLength="13.5" lengthAdjust="spacingAndGlyphs">??1?</text>
<text class="q" x="779" y="285.2" textLength="13.5" lengthAdjust="spacingAndGlyphs">????</text>
<text class="q" x="779" y="299.3" textLength="13.5" lengthAdjust="spacingAndGlyphs">????</text>
<text class="q" x="779" y="313.5" textLength="13.5" lengthAdjust="spacingAndGlyphs">????</text>
<text class="q" x="779" y="327.6" textLength="13.5" lengthAdjust="spacingAndGlyphs">????</text>
<text class="q" x="779" y="355.9" textLength="13.5" lengthAdjust="spacingAndGlyphs">????</text>
<text class="q" x="779" y="370" textLength="13.5" lengthAdjust="spacingAndGlyphs">????</text>
<text class="b" x="779" y="398.8" textLength="18" lengthAdjust="spacingAndGlyphs" style="font-size:10px">MMMM</text>
<text class="q" x="779" y="426.5" textLength="13.5" lengthAdjust="spacingAndGlyphs">????</text>

<!-- ============ RIGHT TITLE BLOCK ============ -->
<text class="s" x="489" y="497.5" textLength="5" lengthAdjust="spacingAndGlyphs">??</text>
<text class="s" x="503" y="497.5" textLength="6" lengthAdjust="spacingAndGlyphs">??</text>
<text class="s" x="522.3" y="497.5" textLength="14.5" lengthAdjust="spacingAndGlyphs">?????</text>
<text class="s" x="556.7" y="497.5" textLength="8" lengthAdjust="spacingAndGlyphs">??</text>
<text class="s" x="575.7" y="497.5" textLength="8" lengthAdjust="spacingAndGlyphs">! ?</text>
<text class="s c" x="499.5" y="506.5" textLength="8" lengthAdjust="spacingAndGlyphs">? !</text>
<text class="s c" x="499.5" y="515" textLength="8" lengthAdjust="spacingAndGlyphs">! ?</text>
<text class="s c" x="499.5" y="524" textLength="8" lengthAdjust="spacingAndGlyphs">? ?</text>
<text class="s c" x="499.5" y="532.5" textLength="8" lengthAdjust="spacingAndGlyphs">? ?</text>
<text style="font-size:11px" x="620" y="506" textLength="36" lengthAdjust="spacingAndGlyphs">??????</text>
<text class="s" x="604" y="521.5" textLength="23" lengthAdjust="spacingAndGlyphs">! ? ! ?</text>
<text class="s" x="656" y="521.5" textLength="18" lengthAdjust="spacingAndGlyphs">?  ??</text>
<text class="s" x="656" y="531.5" textLength="18" lengthAdjust="spacingAndGlyphs">?  ??</text>
<text class="q" x="730" y="518" textLength="28.5" lengthAdjust="spacingAndGlyphs">??????</text>
<text style="font-size:12.5px" x="722.7" y="532" textLength="60" lengthAdjust="spacingAndGlyphs">5161TXS3DF 17</text>
</g>
</svg>
</body></html>
